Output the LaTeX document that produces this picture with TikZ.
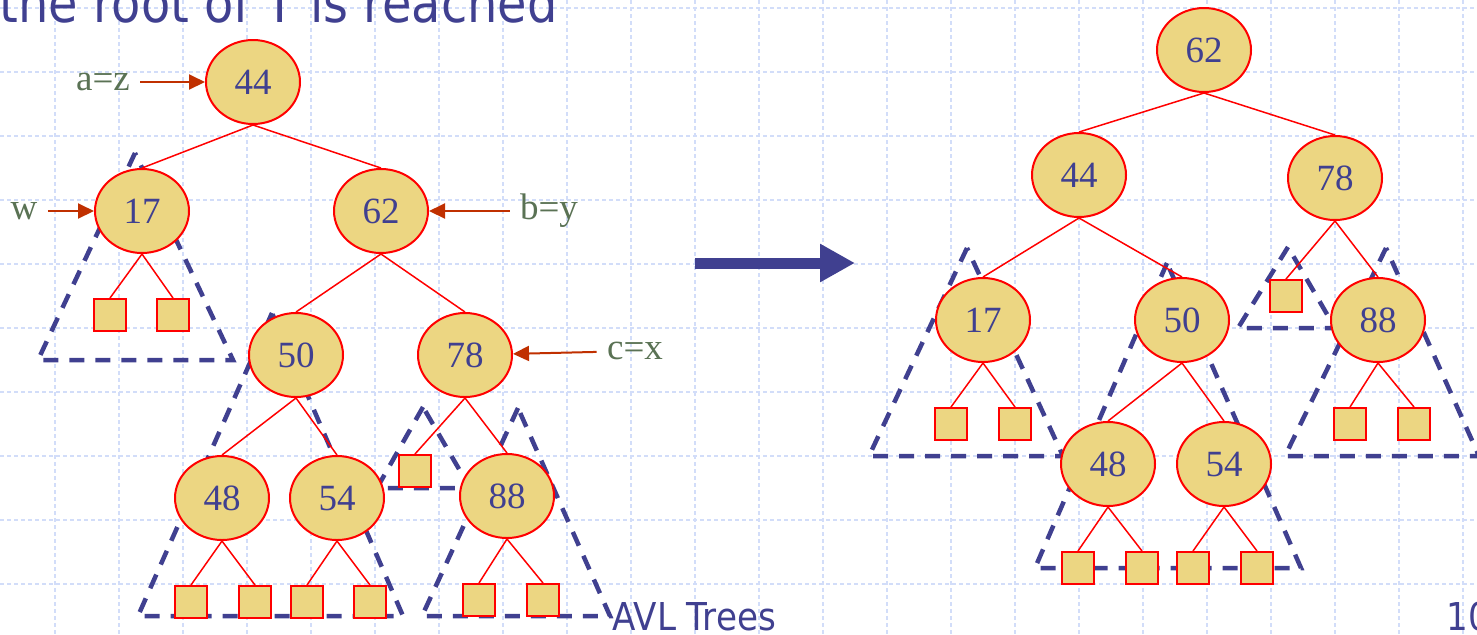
\documentclass[tikz,border=0pt]{standalone}
\usepackage{fontspec}
\setmainfont{Liberation Serif}
\newfontfamily\slidefont[FakeStretch=0.89]{DejaVu Sans}
\usetikzlibrary{shapes.geometric,arrows.meta}
\definecolor{avlblue}{RGB}{64,64,144}
\definecolor{keyfill}{RGB}{236,214,130}
\definecolor{gridblue}{RGB}{210,221,249}
\definecolor{labelgreen}{RGB}{90,114,84}
\definecolor{ptrred}{RGB}{192,48,0}

\begin{document}
\begin{tikzpicture}[x=0.5pt, y=-0.5pt,
    key/.style={ellipse, draw=red, line width=1pt, fill=keyfill,
        minimum width=47pt, minimum height=42pt, inner sep=0pt,
        text=avlblue, font=\fontsize{18.5}{20}\selectfont},
    leaf/.style={rectangle, draw=red, line width=1pt, fill=keyfill,
        minimum size=16pt, inner sep=0pt},
    edge/.style={red, line width=0.75pt},
    subtree/.style={draw=avlblue, line width=2.25pt,
        dash pattern=on 7.5pt off 5.5pt},
    tag/.style={text=labelgreen, inner sep=0pt,
        font=\fontsize{18.5}{20}\selectfont},
    pointer/.style={draw=ptrred, line width=1pt, shorten <=5pt,
        -{Triangle[length=8pt,width=7.5pt]}},
    gridline/.style={gridblue, line width=0.55pt, dash pattern=on 2pt off 1.5pt},
    slide/.style={text=avlblue, inner sep=0pt, anchor=base west}
]
    \clip (0,0) rectangle (1477,634);
    % background grid
    \foreach \gx in {55,119,...,1477}
        \draw[gridline] (\gx,0) -- (\gx,634);
    \foreach \gy in {8,72,...,634}
        \draw[gridline] (0,\gy) -- (1477,\gy);

    \node[slide, font=\slidefont\fontsize{26.9}{28}\selectfont] (heading) at (-1,22) {the root of T is reached};
    \node[slide, font=\slidefont\fontsize{19.2}{20}\selectfont] (footer) at (612,630) {AVL Trees};
    \node[slide, font=\slidefont\fontsize{19.2}{20}\selectfont] (pageno) at (1446,630) {10};

    % subtrees before the rotation
    \draw[subtree] (135,153) -- (38,360) -- (233,360) -- cycle;
    \draw[subtree] (272,313) -- (138,616) -- (403,616) -- cycle;
    \draw[subtree] (423,407) -- (377,488) -- (470,488) -- cycle;
    \draw[subtree] (518,408) -- (422,616) -- (610,616) -- cycle;
    % subtrees after the rotation
    \draw[subtree] (967,248) -- (869,456) -- (1063,456) -- cycle;
    \draw[subtree] (1167,263) -- (1035,568) -- (1301,568) -- cycle;
    \draw[subtree] (1288,247) -- (1238,328) -- (1335,328) -- cycle;
    \draw[subtree] (1386,248) -- (1285,456) -- (1479,456) -- cycle;

    % tree before
    \node[key] (L44) at (253,82) {44};
    \node[key] (L17) at (142,211) {17};
    \node[key] (L62) at (381,211) {62};
    \node[key] (L50) at (296,355) {50};
    \node[key] (L78) at (465,355) {78};
    \node[key] (L48) at (222,498) {48};
    \node[key] (L54) at (337,498) {54};
    \node[key] (L88) at (507,496) {88};
    \node[leaf] (L17a) at (110,315) {};
    \node[leaf] (L17b) at (173,315) {};
    \node[leaf] (L78a) at (415,471) {};
    \node[leaf] (L48a) at (191,602) {};
    \node[leaf] (L48b) at (255,602) {};
    \node[leaf] (L54a) at (307,602) {};
    \node[leaf] (L54b) at (370,602) {};
    \node[leaf] (L88a) at (479,600) {};
    \node[leaf] (L88b) at (543,600) {};
    \draw[edge] (L44.south) -- (L17.north);
    \draw[edge] (L44.south) -- (L62.north);
    \draw[edge] (L17.south) -- (L17a.north);
    \draw[edge] (L17.south) -- (L17b.north);
    \draw[edge] (L62.south) -- (L50.north);
    \draw[edge] (L62.south) -- (L78.north);
    \draw[edge] (L50.south) -- (L48.north);
    \draw[edge] (L50.south) -- (L54.north);
    \draw[edge] (L78.south) -- (L78a.north);
    \draw[edge] (L78.south) -- (L88.north);
    \draw[edge] (L48.south) -- (L48a.north);
    \draw[edge] (L48.south) -- (L48b.north);
    \draw[edge] (L54.south) -- (L54a.north);
    \draw[edge] (L54.south) -- (L54b.north);
    \draw[edge] (L88.south) -- (L88a.north);
    \draw[edge] (L88.south) -- (L88b.north);

    % labels
    \node[tag] (tagaz) at (103,82) {a=z};
    \node[tag] (tagw) at (24,211) {w};
    \node[tag] (tagby) at (549,211) {b=y};
    \node[tag] (tagcx) at (635,351) {c=x};
    \draw[pointer] (tagaz) -- (L44);
    \draw[pointer] (tagw) -- (L17);
    \draw[pointer] (tagby) -- (L62);
    \draw[pointer] (tagcx) -- (L78);

    % rotation arrow
    \coordinate (turnfrom) at (695,263);
    \coordinate (turnto) at (855,263);
    \draw[avlblue, line width=5.5pt, -{Triangle[length=17.5pt,width=18pt]}] (turnfrom) -- (turnto);

    % tree after
    \node[key] (R62) at (1204,50) {62};
    \node[key] (R44) at (1079,175) {44};
    \node[key] (R78) at (1335,178) {78};
    \node[key] (R17) at (983,320) {17};
    \node[key] (R50) at (1182,320) {50};
    \node[key] (R88) at (1378,320) {88};
    \node[key] (R48) at (1108,464) {48};
    \node[key] (R54) at (1224,464) {54};
    \node[leaf] (R17a) at (951,424) {};
    \node[leaf] (R17b) at (1015,424) {};
    \node[leaf] (R78a) at (1286,296) {};
    \node[leaf] (R88a) at (1350,424) {};
    \node[leaf] (R88b) at (1414,424) {};
    \node[leaf] (R48a) at (1078,568) {};
    \node[leaf] (R48b) at (1142,568) {};
    \node[leaf] (R54a) at (1193,568) {};
    \node[leaf] (R54b) at (1257,568) {};
    \draw[edge] (R62.south) -- (R44.north);
    \draw[edge] (R62.south) -- (R78.north);
    \draw[edge] (R44.south) -- (R17.north);
    \draw[edge] (R44.south) -- (R50.north);
    \draw[edge] (R78.south) -- (R78a.north);
    \draw[edge] (R78.south) -- (R88.north);
    \draw[edge] (R17.south) -- (R17a.north);
    \draw[edge] (R17.south) -- (R17b.north);
    \draw[edge] (R50.south) -- (R48.north);
    \draw[edge] (R50.south) -- (R54.north);
    \draw[edge] (R88.south) -- (R88a.north);
    \draw[edge] (R88.south) -- (R88b.north);
    \draw[edge] (R48.south) -- (R48a.north);
    \draw[edge] (R48.south) -- (R48b.north);
    \draw[edge] (R54.south) -- (R54a.north);
    \draw[edge] (R54.south) -- (R54b.north);
\end{tikzpicture}
\end{document}
